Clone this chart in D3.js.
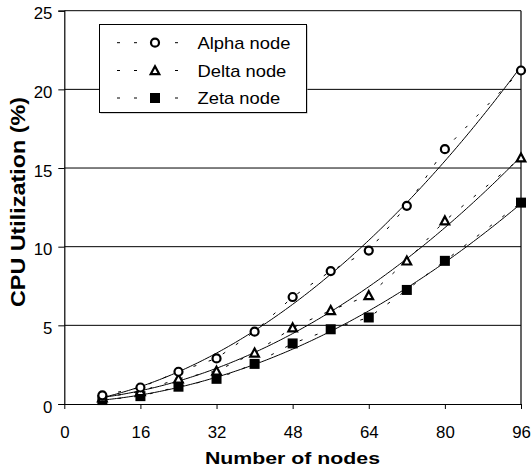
<!DOCTYPE html>
<html><head><meta charset="utf-8">
<script src="https://cdn.jsdelivr.net/npm/d3@7"></script>
<style>
html,body{margin:0;padding:0;background:#fff;}
svg{display:block;font-family:"Liberation Sans",Arial,sans-serif;}
</style></head>
<body>
<svg id="c" width="532" height="470"></svg>
<script>
const nodes = [8,16,24,32,40,48,56,64,72,80,96];
const alphaNode = [0.55,1.05,2.05,2.9,4.6,6.8,8.45,9.75,12.6,16.2,21.2];
const deltaNode = [0.4,0.8,1.6,2.1,3.25,4.85,5.95,6.9,9.1,11.65,15.65];
const zetaNode  = [0.25,0.5,1.1,1.6,2.55,3.85,4.75,5.5,7.25,9.1,12.8];
const seriesNames = ["Alpha node","Delta node","Zeta node"];
const seriesMarkers = ["circle","triangle","square"];
const xTicks = [0,16,32,48,64,80,96];
const yTicks = [0,5,10,15,20,25];

const series = [alphaNode, deltaNode, zetaNode].map((v,i)=>({
  name: seriesNames[i], marker: seriesMarkers[i],
  pts: nodes.map((n,j)=>({x:n, y:v[j]}))
}));

const svg = d3.select("#c");
const L=64.3, R=521, T=10.7, B=404;
const x = d3.scaleLinear().domain([0,96]).range([L,R]);
const y = d3.scaleLinear().domain([0,25]).range([B,T]);

function stretch(sel, f){
  sel.each(function(){ const w=this.getComputedTextLength(); d3.select(this).attr("textLength",w*f).attr("lengthAdjust","spacingAndGlyphs"); });
}

// gridlines
svg.append("g").selectAll("line").data(yTicks.filter(d=>d>0)).join("line")
  .attr("x1",L).attr("x2",R).attr("y1",d=>y(d)).attr("y2",d=>y(d))
  .attr("stroke","#000").attr("stroke-width",1);
// right border
svg.append("line").attr("x1",R).attr("x2",R).attr("y1",T).attr("y2",B).attr("stroke","#000").attr("stroke-width",1.2);

// axes
const yAxis = svg.append("g").attr("transform",`translate(${L},0)`)
  .call(d3.axisLeft(y).tickValues(yTicks).tickSize(6).tickPadding(6));
const xAxis = svg.append("g").attr("transform",`translate(0,${B})`)
  .call(d3.axisBottom(x).tickValues(xTicks).tickSize(5).tickPadding(18));
[yAxis,xAxis].forEach(a=>{
  a.select(".domain").attr("stroke","#000").attr("stroke-width",1.2);
  a.selectAll(".tick line").attr("stroke","#000");
  a.selectAll(".tick text").attr("fill","#000").style("font-size","16px")
   .style("font-family","'Liberation Sans',Arial,sans-serif");
});
yAxis.selectAll(".tick text").attr("dy","0.5em");
xAxis.select(".domain").attr("d",`M${L},0.5H${R}`);
stretch(yAxis.selectAll(".tick text"),1.05);
stretch(xAxis.selectAll(".tick text"),1.05);

// axis titles
svg.append("text").attr("x",292.5).attr("y",463.5).attr("text-anchor","middle")
  .style("font-size","17px").style("font-weight","bold").text("Number of nodes")
  .attr("textLength",175).attr("lengthAdjust","spacingAndGlyphs");
svg.append("text").attr("transform",`translate(25,202) rotate(-90)`)
  .attr("text-anchor","middle").style("font-size","20px").style("font-weight","bold")
  .text("CPU Utilization (%)").attr("textLength",210).attr("lengthAdjust","spacingAndGlyphs");

// quadratic least-squares trend
function quadFit(pts){
  const S=[0,0,0,0,0], Sy=[0,0,0];
  pts.forEach(p=>{ for(let k=0;k<5;k++) S[k]+=Math.pow(p.x,k); for(let k=0;k<3;k++) Sy[k]+=p.y*Math.pow(p.x,k); });
  const A=[[S[0],S[1],S[2],Sy[0]],[S[1],S[2],S[3],Sy[1]],[S[2],S[3],S[4],Sy[2]]];
  for(let i=0;i<3;i++){ for(let j=i+1;j<3;j++){ const f=A[j][i]/A[i][i]; for(let k=i;k<4;k++) A[j][k]-=f*A[i][k]; } }
  const c=[0,0,0];
  for(let i=2;i>=0;i--){ let s=A[i][3]; for(let k=i+1;k<3;k++) s-=A[i][k]*c[k]; c[i]=s/A[i][i]; }
  return xv=>c[0]+c[1]*xv+c[2]*xv*xv;
}

const line = d3.line().x(d=>x(d.x)).y(d=>y(d.y));
const plot = svg.append("g");
series.forEach(s=>{
  const f = quadFit(s.pts);
  const tr = d3.range(8,96.01,0.5).map(v=>({x:v,y:f(v)}));
  plot.append("path").attr("d",line(tr)).attr("fill","none").attr("stroke","#000").attr("stroke-width",1);
  plot.append("path").attr("d",line(s.pts)).attr("fill","none").attr("stroke","#000")
    .attr("stroke-width",1).attr("stroke-dasharray","3,13");
});

function drawMarker(g, type, cx, cy){
  if(type==="circle"){
    g.append("circle").attr("cx",cx).attr("cy",cy).attr("r",4).attr("fill","#fff")
      .attr("stroke","#000").attr("stroke-width",2.2);
  } else if(type==="triangle"){
    const h=4.3;
    g.append("path").attr("d",`M${cx},${cy-h}L${cx+h},${cy+h*0.85}L${cx-h},${cy+h*0.85}Z`)
      .attr("fill","#fff").attr("stroke","#000").attr("stroke-width",2.2).attr("stroke-linejoin","miter");
  } else {
    g.append("rect").attr("x",cx-5).attr("y",cy-5).attr("width",10).attr("height",10).attr("fill","#000");
  }
}
[2,1,0].forEach(i=>{
  const s=series[i];
  s.pts.forEach(p=>drawMarker(plot, s.marker, x(p.x), y(p.y)));
});

// legend
const lg = svg.append("g");
lg.append("rect").attr("x",100.5).attr("y",25.5).attr("width",207).attr("height",88).attr("fill","#aaa");
lg.append("rect").attr("x",99.5).attr("y",24.5).attr("width",207).attr("height",88)
  .attr("fill","#fff").attr("stroke","#000").attr("stroke-width",1);
const rowsY=[42.7,70.5,98];
series.forEach((s,i)=>{
  const yy=rowsY[i];
  lg.append("line").attr("x1",117).attr("x2",180).attr("y1",yy).attr("y2",yy)
    .attr("stroke","#000").attr("stroke-width",1).attr("stroke-dasharray","3,14,3,38,3,100");
  drawMarker(lg, s.marker, 155, yy);
  const t = lg.append("text").attr("x",197.5).attr("y",yy+6).style("font-size","17px").text(s.name);
  stretch(t,1.08);
});
</script>
</body></html>
